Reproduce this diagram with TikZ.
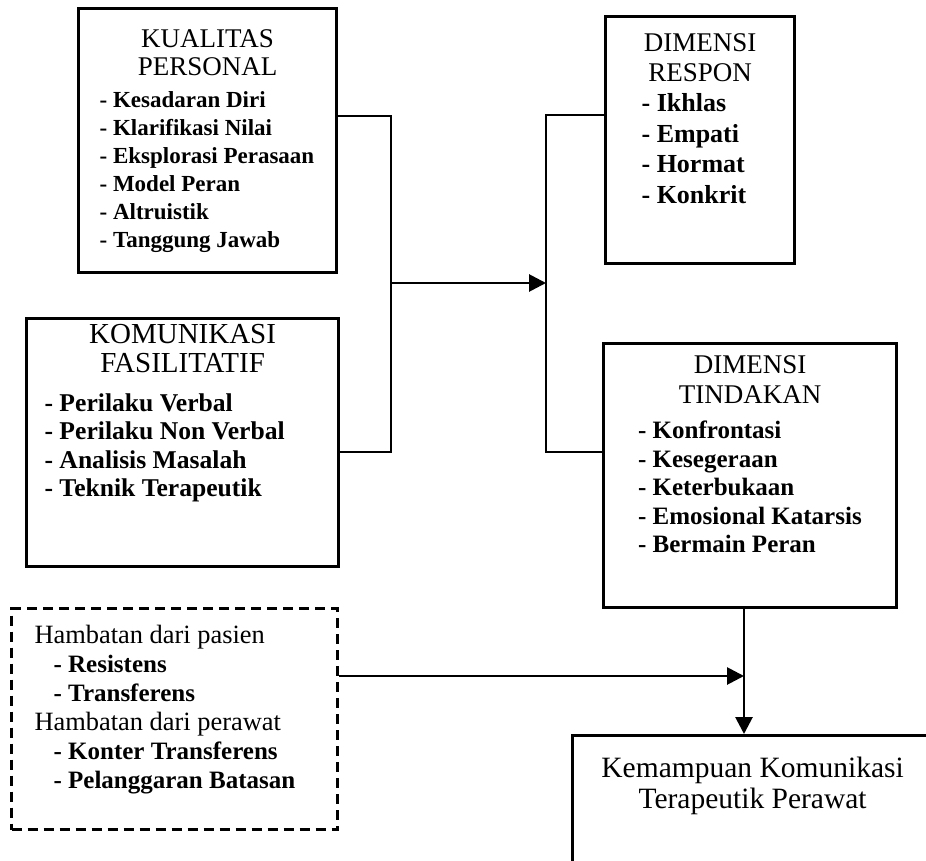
\documentclass[tikz,border=0pt]{standalone}
\usepackage{fontspec}
\setmainfont{Liberation Serif}
\usepackage{tikz}
\usetikzlibrary{arrows.meta}

\newcommand{\judul}{\fontsize{13.5}{14}\selectfont}
\newcommand{\butir}{\fontsize{12.5}{14.5}\selectfont\bfseries}

\begin{document}
\begin{tikzpicture}[x=0.5pt, y=-0.5pt, >={Triangle[length=8.5pt, width=8.5pt]},
    kotak/.style={draw, line width=1.6pt, inner sep=0pt, anchor=north west},
    putus/.style={kotak, dash pattern=on 5pt off 3pt},
    garis/.style={line width=1.4pt}]
    \useasboundingbox (0,0) rectangle (926,861);
    \clip (0,0) rectangle (926,861);

    \node[kotak, minimum width=129pt, minimum height=132pt] (kp) at (77,7)
        {\begin{minipage}[c][118pt][t]{108pt}
            \vspace*{3.5pt}
            {\centering\judul KUALITAS\\PERSONAL\par}
            \vspace{2pt}
            {\fontsize{11.5}{14}\selectfont\bfseries - Kesadaran Diri\\- Klarifikasi Nilai\\- Eksplorasi Perasaan\\- Model Peran\\- Altruistik\\- Tanggung Jawab\par}
        \end{minipage}};
    \node[kotak, minimum width=156pt, minimum height=124pt] (kf) at (25,317)
        {\begin{minipage}[c][118pt][t]{138pt}
            {\centering\fontsize{14.5}{14.5}\selectfont KOMUNIKASI\\FASILITATIF\par}
            \vspace{5pt}
            {\fontsize{12.8}{14.2}\selectfont\bfseries - Perilaku Verbal\\- Perilaku Non Verbal\\- Analisis Masalah\\- Teknik Terapeutik\par}
        \end{minipage}};
    \node[kotak, minimum width=94.5pt, minimum height=123.5pt] (dr) at (604,15)
        {\begin{minipage}[c][109.5pt][t]{58.5pt}
            \vspace*{1.5pt}
            {\centering\fontsize{13.5}{15}\selectfont DIMENSI\\RESPON\par}
            {\fontsize{13}{15.2}\selectfont\bfseries - Ikhlas\\- Empati\\- Hormat\\- Konkrit\par}
        \end{minipage}};
    \node[kotak, minimum width=146.5pt, minimum height=132pt] (dt) at (602,342)
        {\begin{minipage}[c][125pt][t]{112pt}
            \vspace*{2.5pt}
            {\centering\fontsize{13.5}{15}\selectfont DIMENSI\\TINDAKAN\par}
            \vspace{3.5pt}
            {\fontsize{12.5}{14.2}\selectfont\bfseries - Konfrontasi\\- Kesegeraan\\- Keterbukaan\\- Emosional Katarsis\\- Bermain Peran\par}
        \end{minipage}};
    \node[putus, minimum width=163pt, minimum height=110.5pt] (hb) at (10,607)
        {\begin{minipage}[c][98.5pt][t]{140pt}
            \vspace*{2.5pt}
            {\fontsize{13.2}{14.5}\selectfont Hambatan dari pasien\par}
            {\butir\leftskip=9.5pt - Resistens\\- Transferens\par}
            {\fontsize{13.2}{14.5}\selectfont Hambatan dari perawat\par}
            {\butir\leftskip=9.5pt - Konter Transferens\\- Pelanggaran Batasan\par}
        \end{minipage}};
    \node[kotak, minimum width=180pt, minimum height=90pt] (kk) at (571,734)
        {\begin{minipage}[c][76pt][t]{160pt}
            \vspace*{3.5pt}
            {\centering\fontsize{14.75}{15.5}\selectfont Kemampuan Komunikasi\\Terapeutik Perawat\par}
        \end{minipage}};

    \coordinate (ka) at (391,116);
    \coordinate (kb) at (391,452);
    \coordinate (km) at (391,283);
    \coordinate (ra) at (546,115);
    \coordinate (rb) at (546,452);
    \coordinate (rm) at (546,283);
    \coordinate (tm) at (744,676);

    \draw[garis] (kp.east |- ka) -- (ka) -- (kb) -- (kf.east |- kb);
    \draw[garis, ->] (km) -- (rm);
    \draw[garis] (dr.west |- ra) -- (ra) -- (rb) -- (dt.west |- rb);
    \draw[garis, ->] (hb.east |- tm) -- (tm);
    \draw[garis, ->] (dt.south -| tm) -- (kk.north -| tm);
\end{tikzpicture}
\end{document}
